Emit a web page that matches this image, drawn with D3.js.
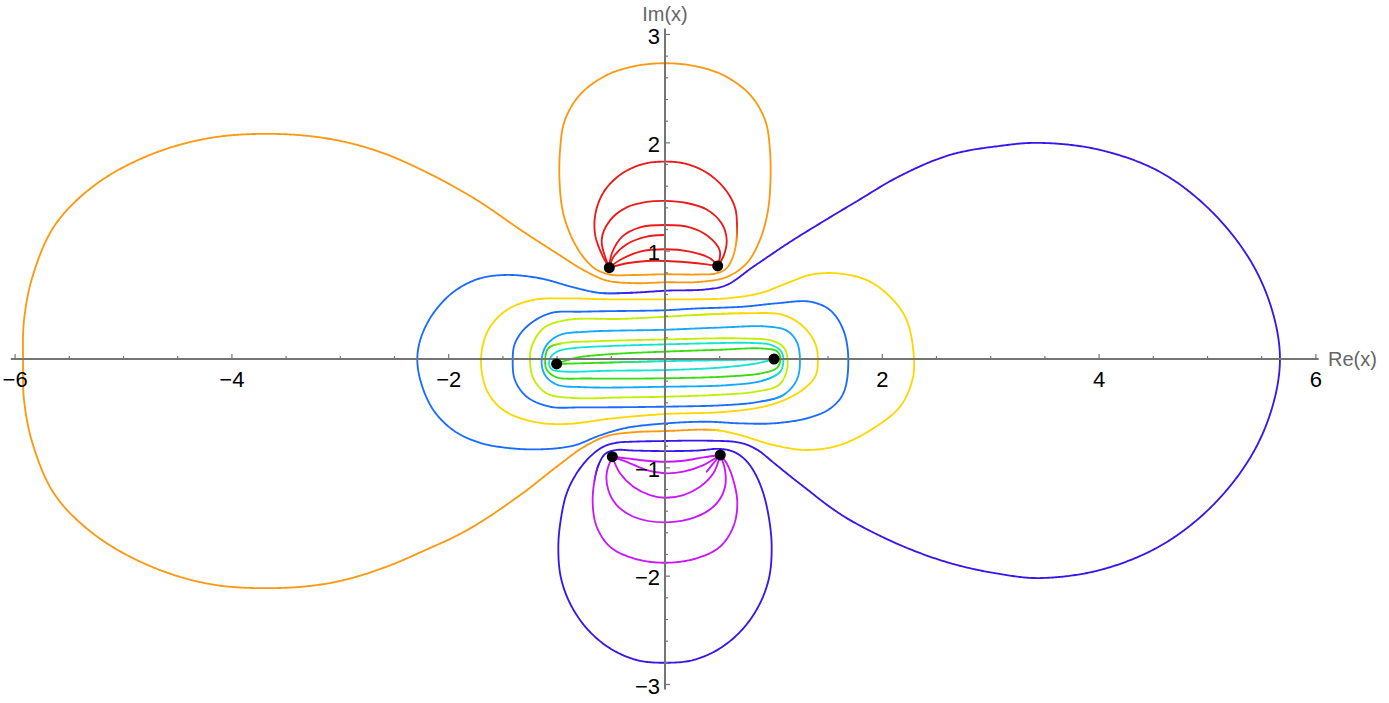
<!DOCTYPE html>
<html><head><meta charset="utf-8">
<script src="https://cdn.jsdelivr.net/npm/d3@7"></script>
<style>
html,body{margin:0;padding:0;background:#fff;}
svg{display:block;}
</style></head>
<body>
<svg id="chart" width="1389" height="703"></svg>
<script>
// ---------------- DATA ----------------
const xTickLabels = [-6, -4, -2, 2, 4, 6];
const yTickLabels = [-3, -2, -1, 1, 2, 3];
const axisNames = ["Re(x)", "Im(x)"];

// black points
const dots = [[-1.0, -0.046], [1.006, 0.0], [-0.514, 0.843], [0.486, 0.859], [-0.486, -0.902], [0.51, -0.886]];

// long trajectory 1 (starts at upper-left point, ends at left point)
const armA_red = [[-0.514,0.843],[-0.58,0.96],[-0.645,1.15],[-0.64,1.35],[-0.56,1.55],[-0.40,1.71],[-0.2,1.8],[0,1.822],[0.2,1.8],[0.40,1.71],[0.56,1.56],[0.645,1.40],[0.664,1.25]];
const armA_orange = [[0.658,1.08],[0.625,0.94],[0.565,0.835],[0.47,0.79],[0.3,0.78],[0,0.782],[-0.3,0.775],[-0.5,0.778],[-0.64,0.83],[-0.76,0.95],[-0.86,1.12],[-0.94,1.35],[-0.972,1.62],[-0.968,1.93],[-0.925,2.2],[-0.784,2.44],[-0.538,2.62],[-0.27,2.705],[0,2.73],[0.27,2.705],[0.538,2.62],[0.784,2.44],[0.925,2.2],[0.968,1.93],[0.972,1.62],[0.948,1.36],[0.876,1.1],[0.754,0.884],[0.569,0.757],[0.323,0.712],[0,0.708],[-0.292,0.70],[-0.538,0.725],[-0.754,0.822],[-0.999,0.976],[-1.307,1.175],[-1.737,1.468],[-2.168,1.708],[-2.629,1.911],[-3.09,2.031],[-3.616,2.078],[-4.197,2.04],[-4.751,1.884],[-5.258,1.607],[-5.627,1.237],[-5.83,0.776],[-5.913,0.36],[-5.922,0],[-5.913,-0.379],[-5.83,-0.794],[-5.627,-1.256],[-5.258,-1.625],[-4.751,-1.911],[-4.197,-2.078],[-3.616,-2.115],[-3.09,-2.068],[-2.629,-1.94],[-2.168,-1.745],[-1.9,-1.62],[-1.676,-1.49],[-1.307,-1.235],[-0.999,-0.994],[-0.754,-0.815],[-0.538,-0.712],[-0.292,-0.676],[0.015,-0.665],[0.35,-0.652]];
const armA_yellow = [[0.5,-0.66],[0.692,-0.702],[0.999,-0.794],[1.307,-0.84],[1.614,-0.794],[1.922,-0.64],[2.168,-0.44],[2.28,-0.2],[2.297,0],[2.229,0.36],[2.076,0.575],[1.86,0.729],[1.584,0.791],[1.338,0.776],[1.123,0.699],[0.876,0.607],[0.569,0.56],[0.261,0.551],[0,0.551],[-0.538,0.551],[-0.907,0.56],[-1.215,0.545],[-1.46,0.452],[-1.63,0.268],[-1.697,0],[-1.645,-0.286],[-1.492,-0.471],[-1.215,-0.579],[-0.907,-0.6],[-0.5,-0.55],[0,-0.508],[0.569,-0.487],[0.969,-0.425],[1.245,-0.302],[1.385,-0.163],[1.41,-0.015],[1.385,0.145],[1.277,0.298],[1.092,0.406],[0.722,0.422]];
const armA_yellowGreen = [[0.261,0.405],[0,0.39],[-0.4,0.37],[-0.907,0.36],[-1.122,0.283],[-1.23,0.114],[-1.245,-0.025],[-1.215,-0.178],[-1.092,-0.317],[-0.846,-0.36],[-0.4,-0.355],[0,-0.348],[0.5,-0.33],[0.85,-0.3],[1.05,-0.24],[1.12,-0.12],[1.13,0],[1.1,0.1],[1.0,0.165],[0.7,0.19],[0,0.18],[-0.6,0.165],[-0.95,0.145]];
const armA_green = [[-1.075,0.1],[-1.105,0.0],[-1.09,-0.1],[-1.0,-0.168],[-0.7,-0.18],[0,-0.178],[0.6,-0.16],[0.9,-0.13],[1.035,-0.08],[1.065,0.0],[1.035,0.07],[0.9,0.097],[0.5,0.085],[0,0.068],[-0.5,0.045],[-0.8,0.015],[-0.93,-0.02],[-1.0,-0.046]];

// long trajectory 2 (starts at lower-right point, ends at right point)
const armB_magenta = [[0.51,-0.886],[0.569,-0.963],[0.63,-1.117],[0.667,-1.333],[0.63,-1.548],[0.507,-1.733],[0.292,-1.84],[0,-1.881],[-0.292,-1.84],[-0.507,-1.733],[-0.63,-1.548],[-0.667,-1.333],[-0.65,-1.12]];
const armB_indigo = [[-0.61,-0.97],[-0.55,-0.875],[-0.45,-0.84],[-0.292,-0.845],[0,-0.85],[0.3,-0.845],[0.5,-0.83],[0.63,-0.855],[0.74,-0.93],[0.83,-1.055],[0.907,-1.24],[0.962,-1.487],[0.984,-1.733],[0.962,-2.01],[0.876,-2.256],[0.722,-2.487],[0.507,-2.671],[0.261,-2.779],[0,-2.804],[-0.261,-2.779],[-0.507,-2.671],[-0.722,-2.487],[-0.876,-2.256],[-0.962,-2.01],[-0.984,-1.733],[-0.962,-1.487],[-0.907,-1.24],[-0.815,-1.055],[-0.692,-0.902],[-0.569,-0.81],[-0.446,-0.773],[-0.292,-0.763],[0,-0.757],[0.385,-0.754],[0.692,-0.773],[0.846,-0.835],[0.999,-0.955],[1.153,-1.08],[1.307,-1.2],[1.5,-1.35],[1.707,-1.487],[2.168,-1.717],[2.629,-1.884],[3.09,-1.985],[3.459,-2.022],[4.013,-1.948],[4.566,-1.727],[5.028,-1.376],[5.397,-0.914],[5.6,-0.452],[5.673,0],[5.6,0.452],[5.397,0.914],[5.028,1.376],[4.566,1.727],[4.013,1.93],[3.459,1.995],[3.09,1.967],[2.629,1.884],[2.168,1.69],[1.768,1.455],[1.46,1.27],[1.153,1.08],[0.815,0.852],[0.569,0.683],[0.385,0.643],[0.015,0.631],[-0.3,0.612]];
const armB_blue = [[-0.6,0.61],[-0.846,0.662],[-1.153,0.745],[-1.46,0.776],[-1.72,0.74],[-1.95,0.62],[-2.137,0.422],[-2.25,0.2],[-2.285,0],[-2.25,-0.22],[-2.137,-0.471],[-1.95,-0.66],[-1.72,-0.77],[-1.46,-0.82],[-1.153,-0.834],[-0.846,-0.8],[-0.6,-0.705],[-0.353,-0.635],[0.015,-0.594],[0.385,-0.579],[0.692,-0.594],[0.999,-0.594],[1.307,-0.548],[1.52,-0.46],[1.645,-0.317],[1.691,-0.015],[1.645,0.268],[1.522,0.452],[1.338,0.529],[1.03,0.514],[0.722,0.483],[0.261,0.465],[0,0.45],[-0.754,0.437],[-1.061,0.422],[-1.276,0.298],[-1.384,0.145],[-1.405,-0.01],[-1.384,-0.194],[-1.276,-0.348],[-1.061,-0.44],[-0.754,-0.446],[0,-0.44],[0.569,-0.425],[0.876,-0.394]];
const armB_lightBlue = [[1.092,-0.332],[1.215,-0.194],[1.245,-0.015],[1.215,0.16],[1.123,0.262],[0.938,0.3],[0.5,0.29],[0,0.27],[-0.722,0.252],[-0.969,0.222],[-1.092,0.129],[-1.138,-0.01],[-1.107,-0.148],[-1.0,-0.235],[-0.754,-0.26],[0,-0.256],[0.6,-0.24],[0.9,-0.2]];
const armB_cyan = [[1.06,-0.12],[1.092,-0.02],[1.072,0.07],[0.98,0.13],[0.8,0.148],[0.4,0.145],[0,0.135],[-0.5,0.12],[-0.85,0.1],[-0.98,0.075],[-1.045,0.03],[-1.07,-0.04],[-1.045,-0.095],[-0.95,-0.115],[-0.5,-0.108],[0,-0.102],[0.5,-0.08],[0.85,-0.04],[1.006,0.0]];

// line between left and right points
const lineAB = [[-1.0,-0.046],[-0.6,-0.035],[0,-0.02],[0.6,-0.01],[1.006,0.0]];

// arcs between the two upper points
const upperArcs = [
  [[-0.514,0.843],[-0.584,1.10],[-0.507,1.28],[-0.353,1.40],[-0.169,1.45],[0,1.46],[0.2,1.44],[0.385,1.38],[0.523,1.25],[0.569,1.10],[0.538,0.945],[0.486,0.859]],
  [[-0.514,0.843],[-0.49,0.976],[-0.395,1.13],[-0.23,1.216],[0,1.237],[0.23,1.216],[0.395,1.135],[0.505,1.0],[0.486,0.859]],
  [[-0.514,0.843],[-0.47,0.95],[-0.353,1.06],[-0.169,1.13],[-0.015,1.145]],
  [[-0.514,0.843],[-0.415,0.914],[-0.23,0.991],[0,1.013],[0.23,0.991],[0.415,0.93],[0.486,0.859]],
  [[-0.514,0.843],[-0.353,0.884],[-0.169,0.905],[0.015,0.905],[0.2,0.893],[0.385,0.874],[0.486,0.859]]
];
// arcs between the two lower points
const lowerArcs = [
  [[-0.486,-0.902],[-0.538,-1.055],[-0.523,-1.21],[-0.446,-1.348],[-0.292,-1.456],[0,-1.508],[0.292,-1.456],[0.477,-1.333],[0.554,-1.179],[0.554,-1.025],[0.51,-0.886]],
  [[-0.486,-0.902],[-0.415,-1.055],[-0.292,-1.179],[-0.138,-1.256],[0,-1.281],[0.169,-1.256],[0.323,-1.179],[0.446,-1.055],[0.51,-0.886]],
  [[0.51,-0.886],[0.446,-0.963],[0.385,-1.04]],
  [[-0.486,-0.902],[-0.323,-0.963],[-0.169,-1.025],[0,-1.055],[0.169,-1.04],[0.354,-0.979],[0.51,-0.886]],
  [[-0.486,-0.902],[-0.353,-0.917],[-0.169,-0.939],[0,-0.948],[0.169,-0.939],[0.354,-0.908],[0.51,-0.886]]
];

// ---------------- STYLE / LAYOUT ----------------
const COL = {
  red: "#ec1a1a", orange: "#fb9a12", yellow: "#fcd800", yellowGreen: "#c2ee00",
  green: "#38dc12", cyan: "#16e4d0", lightBlue: "#14a8ff", blue: "#1a6cff",
  indigo: "#3a16ec", magenta: "#c916fc"
};
const LW = 1.85;
const axisColor = "#757575";

const svg = d3.select("#chart");
const x = d3.scaleLinear().domain([-6, 6]).range([14.6, 1315.4]);
const y = d3.scaleLinear().domain([-3, 3]).range([684, 34]);

const gCurves = svg.append("g").attr("fill", "none");
const lineGen = d3.line().x(d => d[0]).y(d => d[1]).curve(d3.curveCatmullRom.alpha(0.5));

function drawPlain(pts, color) {
  gCurves.append("path")
    .attr("d", lineGen(pts.map(p => [x(p[0]), y(p[1])])))
    .attr("stroke", color).attr("stroke-width", LW)
    .attr("stroke-linejoin", "round").attr("stroke-linecap", "round");
}

// multi-coloured curve: parts = [{pts, color}] ; colours blend across the joins
function drawGradient(parts) {
  const pts = [], cols = [];
  parts.forEach(p => p.pts.forEach(q => { pts.push([x(q[0]), y(q[1])]); cols.push(p.color); }));
  const tmp = gCurves.append("path").attr("d", lineGen(pts)).attr("stroke", "none");
  const node = tmp.node();
  const L = node.getTotalLength();
  const cum = [0];
  for (let i = 1; i < pts.length; i++) cum.push(cum[i - 1] + Math.hypot(pts[i][0] - pts[i - 1][0], pts[i][1] - pts[i - 1][1]));
  const C = cum[cum.length - 1];
  let k = 0;
  const colorAt = s => {
    const c = s / L * C;
    while (k < cum.length - 2 && cum[k + 1] < c) k++;
    while (k > 0 && cum[k] > c) k--;
    const t = Math.max(0, Math.min(1, (c - cum[k]) / (cum[k + 1] - cum[k] || 1)));
    return d3.color(d3.interpolateRgb(cols[k], cols[k + 1])(t)).formatHex();
  };
  const step = 1.5;
  let prev = node.getPointAtLength(0);
  let curCol = colorAt(0);
  let seg = [[prev.x, prev.y]];
  const flush = () => {
    if (seg.length > 1) gCurves.append("polyline")
      .attr("points", seg.map(p => p.join(",")).join(" "))
      .attr("stroke", curCol).attr("stroke-width", LW)
      .attr("stroke-linejoin", "round").attr("stroke-linecap", "round");
  };
  for (let s = step; ; s += step) {
    const ss = Math.min(s, L);
    const p = node.getPointAtLength(ss);
    const c = colorAt(ss - step / 2);
    if (c !== curCol) { flush(); seg = [[prev.x, prev.y]]; curCol = c; }
    seg.push([p.x, p.y]);
    prev = p;
    if (ss >= L) break;
  }
  flush();
  tmp.remove();
}

// curves
drawGradient([
  { pts: armA_red, color: COL.red },
  { pts: armA_orange, color: COL.orange },
  { pts: armA_yellow, color: COL.yellow },
  { pts: armA_yellowGreen, color: COL.yellowGreen },
  { pts: armA_green, color: COL.green }
]);
drawGradient([
  { pts: armB_magenta, color: COL.magenta },
  { pts: armB_indigo, color: COL.indigo },
  { pts: armB_blue, color: COL.blue },
  { pts: armB_lightBlue, color: COL.lightBlue },
  { pts: armB_cyan, color: COL.cyan }
]);
drawGradient([
  { pts: lineAB.slice(0, 2), color: COL.green },
  { pts: lineAB.slice(2), color: COL.cyan }
]);
upperArcs.forEach(a => drawPlain(a, COL.red));
lowerArcs.forEach(a => drawPlain(a, COL.magenta));

// axes (drawn over the curves)
const gAx = svg.append("g");
gAx.append("line").attr("x1", x(-6.035)).attr("x2", x(6.03)).attr("y1", y(0)).attr("y2", y(0))
  .attr("stroke", axisColor).attr("stroke-width", 2);
gAx.append("line").attr("x1", x(0)).attr("x2", x(0)).attr("y1", y(3.05)).attr("y2", y(-3.05))
  .attr("stroke", axisColor).attr("stroke-width", 2);

function styleAxis(g) {
  g.select(".domain").remove();
  g.selectAll(".tick line").attr("stroke", axisColor).attr("stroke-width", 1.2);
}
const xMinor = d3.range(-6, 6.001, 0.5).filter(v => Math.abs(v) > 1e-9 && Math.abs(v % 2) > 1e-9);
const yMinor = d3.range(-30, 31, 2).map(v => v / 10).filter(v => Math.abs(v) > 1e-9 && Math.abs(v - Math.round(v)) > 1e-9);

gAx.append("g").attr("transform", `translate(0,${y(0)})`)
  .call(d3.axisTop(x).tickValues(xMinor).tickSize(3).tickSizeOuter(0).tickFormat(""))
  .call(styleAxis);
gAx.append("g").attr("transform", `translate(0,${y(0)})`)
  .call(d3.axisTop(x).tickValues(xTickLabels).tickSize(5).tickSizeOuter(0).tickFormat(""))
  .call(styleAxis);
gAx.append("g").attr("transform", `translate(${x(0)},0)`)
  .call(d3.axisRight(y).tickValues(yMinor).tickSize(3).tickSizeOuter(0).tickFormat(""))
  .call(styleAxis);
gAx.append("g").attr("transform", `translate(${x(0)},0)`)
  .call(d3.axisRight(y).tickValues(yTickLabels.filter(v => v !== 0)).tickSize(5).tickSizeOuter(0).tickFormat(""))
  .call(styleAxis);

// dots
svg.append("g").selectAll("circle").data(dots).join("circle")
  .attr("cx", d => x(d[0])).attr("cy", d => y(d[1])).attr("r", 5.5).attr("fill", "#000");

// tick labels
const fmt = v => (v < 0 ? "\u2212" : "") + Math.abs(v);
const fontFam = "'Liberation Sans', Arial, Helvetica, sans-serif";
const gx = svg.append("g").attr("transform", `translate(0,${y(0)})`)
  .call(d3.axisBottom(x).tickValues(xTickLabels).tickSize(0).tickPadding(12.4).tickFormat(fmt));
gx.select(".domain").remove();
gx.selectAll("text").attr("fill", "#000").attr("font-size", 22).attr("font-family", fontFam);

const gy = svg.append("g").attr("transform", `translate(${x(0)},0)`)
  .call(d3.axisLeft(y).tickValues(yTickLabels).tickSize(0).tickPadding(5).tickFormat(fmt));
gy.select(".domain").remove();
gy.selectAll("text").attr("fill", "#000").attr("font-size", 22).attr("font-family", fontFam).attr("dy", "0.42em");

// axis names
svg.append("text").attr("x", 1328).attr("y", y(0) + 7).text(axisNames[0])
  .attr("font-size", 20).attr("font-family", fontFam).attr("fill", "#666");
svg.append("text").attr("x", x(0)).attr("y", 21).attr("text-anchor", "middle").text(axisNames[1])
  .attr("font-size", 20).attr("font-family", fontFam).attr("fill", "#666");
</script>
</body></html>
